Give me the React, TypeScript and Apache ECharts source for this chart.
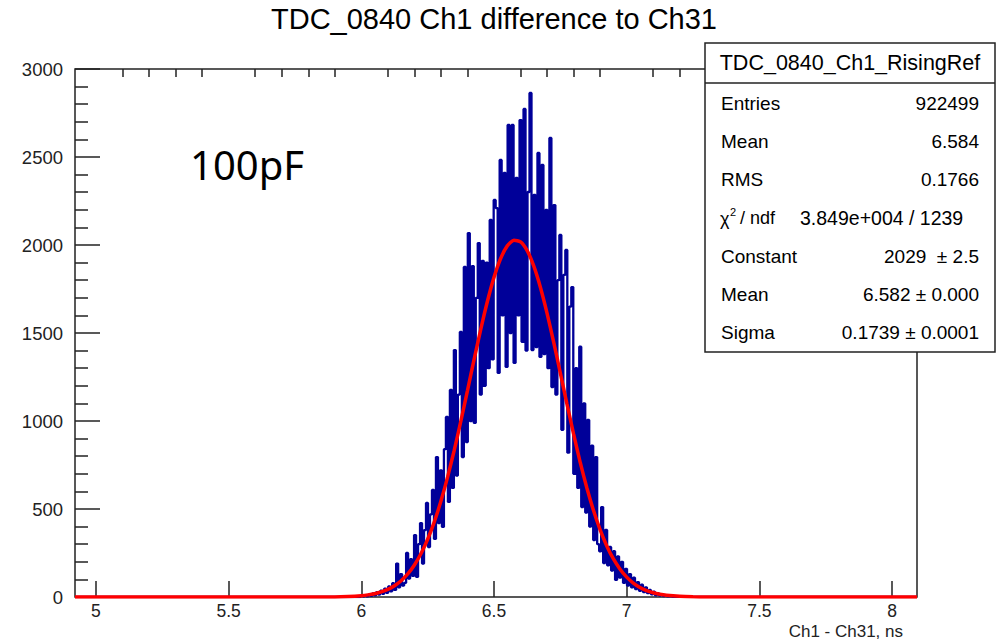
import React, { useEffect, useRef } from "react";
import * as echarts from "echarts";

// ---------- data ----------
const X_MIN = 4.921;
const X_MAX = 8.094;
const Y_MIN = 0;
const Y_MAX = 3000;
const Y_INTERVAL = 500;

const xTickLabels = [5, 5.5, 6, 6.5, 7, 7.5, 8];
const xMinorTicks = [
  5.1, 5.2, 5.3, 5.4, 5.6, 5.7, 5.8, 5.9, 6.1, 6.2, 6.3, 6.4, 6.6, 6.7, 6.8, 6.9,
  7.1, 7.2, 7.3, 7.4, 7.6, 7.7, 7.8, 7.9,
];

const titleText = "TDC_0840 Ch1 difference to Ch31";
const xAxisTitle = "Ch1 - Ch31, ns";
const annotation = "100pF";

// histogram: bin left edge of first bin, bin width, counts per bin
const histFirstEdge = 5.99625;
const histBinWidth = 0.0075;
const histCounts = [
  6, 2, 9, 4, 14, 6, 20, 10, 28, 14,
  36, 18, 48, 24, 60, 32, 78, 40, 190, 55,
  130, 65, 80, 250, 105, 215, 120, 352, 114, 300,
  420, 190, 380, 534, 284, 470, 608, 330, 795, 420,
  720, 398, 840, 1023, 540, 1176, 620, 1403, 690, 1150,
  1506, 795, 1875, 880, 2068, 1000, 1880, 989, 1700, 2011,
  1150, 1910, 1200, 1900, 1300, 2142, 1350, 2256, 2210, 1273,
  2483, 1600, 2409, 1307, 2682, 1500, 2682, 1330, 2381, 1600,
  2710, 1450, 2773, 1400, 2301, 2864, 1403, 2284, 1420, 2523,
  1364, 2455, 1380, 2199, 1300, 2608, 1193, 2227, 1150, 1800,
  2057, 950, 1830, 1972, 820, 1650, 1761, 700, 1300, 620,
  1422, 511, 1100, 480, 1006, 400, 860, 324, 795, 300,
  260, 511, 193, 381, 180, 284, 150, 260, 97, 230,
  110, 200, 80, 160, 65, 130, 55, 110, 45, 85,
  35, 70, 28, 55, 22, 40, 15, 30, 10, 22,
  8, 15, 5, 10, 3, 6, 2,
];

// fitted gaussian curve
const fitX = [
  4.921, 5.9, 5.95, 6.0, 6.025, 6.05, 6.075, 6.1, 6.125, 6.15, 6.175, 6.2, 6.225,
  6.25, 6.275, 6.3, 6.325, 6.35, 6.375, 6.4, 6.425, 6.45, 6.475, 6.5, 6.525, 6.55,
  6.575, 6.6, 6.625, 6.65, 6.675, 6.7, 6.725, 6.75, 6.775, 6.8, 6.825, 6.85, 6.875,
  6.9, 6.925, 6.95, 6.975, 7.0, 7.025, 7.05, 7.075, 7.1, 7.125, 7.15, 7.2, 7.25,
  7.3, 8.094,
];
const fitY = [
  0, 0.5, 2.7, 7.5, 12, 18.8, 28.9, 43.6, 64.2, 92.7, 131, 182, 247,
  328, 427, 545, 681, 833, 999, 1173, 1350, 1521, 1679, 1816, 1923, 1995,
  2027, 2018, 1968, 1880, 1759, 1612, 1447, 1272, 1096, 925, 764, 619, 491,
  381, 290, 216, 158, 113, 79, 54, 36, 24, 15.5, 9.8, 3.7, 1.2,
  0.4, 0,
];

const statsHeader = "TDC_0840_Ch1_RisingRef";
const statsLabels = ["Entries", "Mean", "RMS", "", "Constant", "Mean", "Sigma"];
const statsValues = ["922499", "6.584", "0.1766", "", "2029  \u00b1 2.5", "6.582 \u00b1 0.000", "0.1739 \u00b1 0.0001"];
const chi2Value = "3.849e+004 / 1239";

// ---------- chart ----------
const FONT = '"Liberation Sans", Arial, Helvetica, sans-serif';

export default function App() {
  const ref = useRef<HTMLDivElement>(null);

  useEffect(() => {
    if (!ref.current) return;
    const chart = echarts.init(ref.current, undefined, { renderer: "svg" });

    const histPoints: number[][] = [[X_MIN, 0]];
    histCounts.forEach((c, i) => histPoints.push([histFirstEdge + i * histBinWidth, c]));
    histPoints.push([histFirstEdge + histCounts.length * histBinWidth, 0]);
    histPoints.push([X_MAX, 0]);

    const fitPoints = fitX.map((x, i) => [x, fitY[i]]);

    const boxL = 705, boxT = 43, boxR = 995, boxB = 352, headB = 83;
    const rowY0 = 103, rowStep = 38.3;
    const labelX = 721, valueX = 979;

    const statsTexts: any[] = [];
    statsLabels.forEach((lab, i) => {
      if (!lab) return;
      statsTexts.push({
        type: "text", z: 101,
        style: { text: lab, x: labelX, y: rowY0 + i * rowStep, font: `19px ${FONT}`, fill: "#000", textAlign: "left", textVerticalAlign: "middle" },
      });
      statsTexts.push({
        type: "text", z: 101,
        style: { text: statsValues[i], x: valueX, y: rowY0 + i * rowStep, font: `19px ${FONT}`, fill: "#000", textAlign: "right", textVerticalAlign: "middle" },
      });
    });
    const chiY = rowY0 + 3 * rowStep;
    statsTexts.push(
      { type: "text", z: 101, style: { text: "\u03c7", x: 720, y: chiY + 1, font: `18px ${FONT}`, fill: "#000", textAlign: "left", textVerticalAlign: "middle" } },
      { type: "text", z: 101, style: { text: "2", x: 730, y: chiY - 6, font: `11px ${FONT}`, fill: "#000", textAlign: "left", textVerticalAlign: "middle" } },
      { type: "text", z: 101, style: { text: "/ ndf", x: 740, y: chiY, font: `18px ${FONT}`, fill: "#000", textAlign: "left", textVerticalAlign: "middle" } },
      { type: "text", z: 101, style: { text: chi2Value, x: 800, y: chiY, font: `19.5px ${FONT}`, fill: "#000", textAlign: "left", textVerticalAlign: "middle" } },
    );

    chart.setOption({
      animation: false,
      backgroundColor: "#fff",
      grid: {
        left: 75, top: 69, right: 996 - 917, bottom: 641 - 597,
        show: true, borderColor: "#222", borderWidth: 1.5, backgroundColor: "transparent",
        containLabel: false, outerBoundsMode: "none",
      },
      xAxis: [
        {
          type: "value", min: X_MIN, max: X_MAX,
          axisLine: { show: false },
          splitLine: { show: false },
          axisTick: { show: true, inside: true, length: 16, customValues: xTickLabels, lineStyle: { color: "#222", width: 1.5 } },
          axisLabel: { show: true, customValues: xTickLabels, margin: 5, fontSize: 17.5, lineHeight: 17, fontFamily: FONT, color: "#222" },
        },
        {
          type: "value", min: X_MIN, max: X_MAX,
          axisLine: { show: false },
          splitLine: { show: false },
          axisTick: { show: true, inside: true, length: 8, customValues: xMinorTicks, lineStyle: { color: "#222", width: 1.5 } },
          axisLabel: { show: false },
        },
      ],
      yAxis: {
        type: "value", min: Y_MIN, max: Y_MAX, interval: Y_INTERVAL,
        axisLine: { show: false },
        splitLine: { show: false },
        axisTick: { show: true, inside: true, length: 25, lineStyle: { color: "#222", width: 1.5 } },
        minorTick: { show: true, splitNumber: 5, length: 13, lineStyle: { color: "#222", width: 1.5 } },
        minorSplitLine: { show: false },
        axisLabel: { margin: 12, fontSize: 18.5, fontFamily: FONT, color: "#222", formatter: (v: number) => String(v) },
      },
      series: [
        {
          type: "line", xAxisIndex: 0, data: histPoints, step: "end",
          symbol: "none", showSymbol: false, z: 2,
          lineStyle: { color: "#000099", width: 2.3 },
        },
        {
          type: "line", xAxisIndex: 0, data: fitPoints, smooth: 0.2,
          symbol: "none", showSymbol: false, z: 3,
          lineStyle: { color: "#ff0000", width: 3.5 },
        },
      ],
      graphic: [
        { type: "text", z: 100, style: { text: titleText, x: 494, y: 19, font: `29px ${FONT}`, fill: "#000", textAlign: "center", textVerticalAlign: "middle" } },
        { type: "text", z: 100, style: { text: annotation, x: 190, y: 164, font: `40px "Noto Sans", "Open Sans", sans-serif`, fill: "#000", textAlign: "left", textVerticalAlign: "middle" } },
        { type: "text", z: 100, style: { text: xAxisTitle, x: 903, y: 640, font: `17px ${FONT}`, fill: "#222", textAlign: "right", textVerticalAlign: "bottom" } },
        { type: "rect", z: 100, shape: { x: boxL, y: boxT, width: boxR - boxL, height: boxB - boxT }, style: { fill: "#fff", stroke: "#222", lineWidth: 1.5 } },
        { type: "line", z: 101, shape: { x1: boxL, y1: headB, x2: boxR, y2: headB }, style: { stroke: "#222", lineWidth: 1.5 } },
        { type: "text", z: 101, style: { text: statsHeader, x: (boxL + boxR) / 2, y: 63, font: `21.5px ${FONT}`, fill: "#000", textAlign: "center", textVerticalAlign: "middle" } },
        ...statsTexts,
      ],
    });

    return () => chart.dispose();
  }, []);

  return (
    <div
      ref={ref}
      style={{ position: "absolute", left: 0, top: 0, width: 996, height: 641, background: "#fff" }}
    />
  );
}
